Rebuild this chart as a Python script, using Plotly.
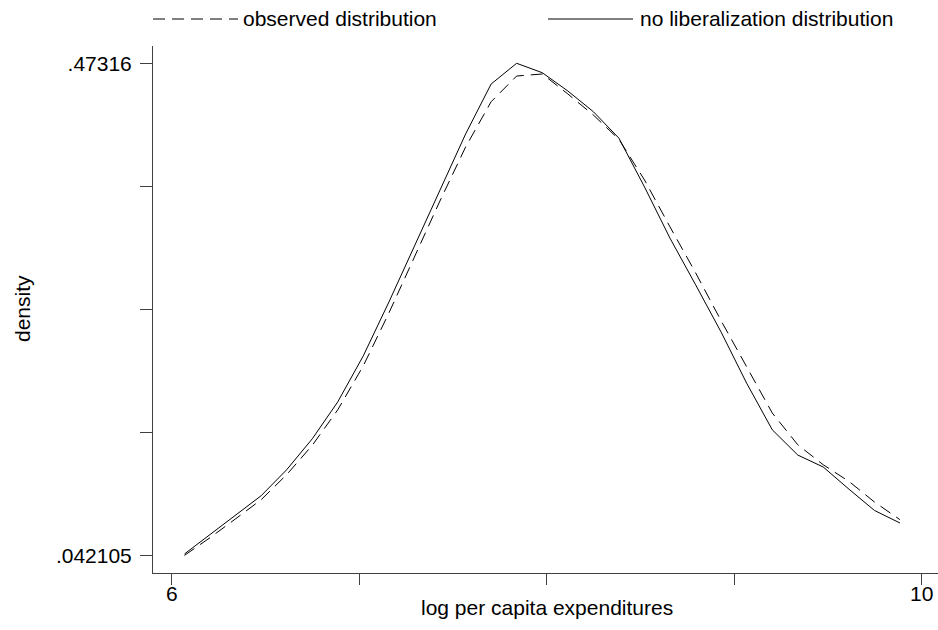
import plotly.graph_objects as go

# x grid (log per capita expenditures)
x_vals = [6.067, 6.203, 6.340, 6.476, 6.612, 6.749, 6.885, 7.021, 7.158, 7.294,
          7.430, 7.567, 7.703, 7.839, 7.976, 8.112, 8.248, 8.385, 8.521, 8.657,
          8.794, 8.930, 9.066, 9.203, 9.339, 9.475, 9.612, 9.748, 9.884]

observed = [0.042105, 0.0576, 0.0742, 0.0909, 0.1128, 0.1386, 0.1697, 0.2082, 0.2546, 0.3036,
            0.3526, 0.3999, 0.4395, 0.4620, 0.4638, 0.4463, 0.4279, 0.4065, 0.3710, 0.3299,
            0.2896, 0.2476, 0.2073, 0.1668, 0.1390, 0.1215, 0.1069, 0.0889, 0.0734]

no_lib = [0.0434, 0.0602, 0.0777, 0.0944, 0.1171, 0.1443, 0.1767, 0.2169, 0.2642, 0.3132,
          0.3622, 0.4113, 0.4550, 0.47316, 0.4649, 0.4489, 0.4308, 0.4075, 0.3649, 0.3200,
          0.2791, 0.2377, 0.1930, 0.1521, 0.1300, 0.1195, 0.1001, 0.0815, 0.0705]

y_ticks = [0.042105, 0.1498688, 0.2576325, 0.3653963, 0.47316]
y_tick_text = [".042105", "", "", "", ".47316"]
x_ticks = [6, 7, 8, 9, 10]
x_tick_text = ["6", "", "", "", "10"]

FONT = "Liberation Sans, Arial, sans-serif"
FS = 21
AX = "#404040"

fig = go.Figure()
fig.add_trace(go.Scatter(x=x_vals, y=observed, mode="lines", name="observed distribution",
                         line=dict(color="black", width=1, dash="12px,7px")))
fig.add_trace(go.Scatter(x=x_vals, y=no_lib, mode="lines", name="no liberalization distribution",
                         line=dict(color="black", width=1)))

fig.update_layout(
    width=938, height=630,
    margin=dict(l=153, r=0, t=46, b=57),
    plot_bgcolor="white", paper_bgcolor="white",
    showlegend=False,
    font=dict(family=FONT, size=FS, color="black"),
    xaxis=dict(range=[5.899, 10.087], tickvals=x_ticks, ticktext=x_tick_text,
               showgrid=False, zeroline=False, showline=True, linecolor=AX, linewidth=1,
               ticks="outside", ticklen=11, tickcolor=AX, tickwidth=1,
               ticklabelstandoff=-9,
               tickfont=dict(family=FONT, size=FS, color="black")),
    yaxis=dict(range=[0.02670, 0.48830], tickvals=y_ticks, ticktext=y_tick_text,
               showgrid=False, zeroline=False, showline=True, linecolor=AX, linewidth=1,
               ticks="outside", ticklen=12, tickcolor=AX, tickwidth=1,
               ticklabelstandoff=4,
               tickfont=dict(family=FONT, size=FS, color="black")),
)

def px(xp):
    return (xp - 153) / 785

def py(yp):
    return (573 - yp) / 527

# legend (drawn manually, Stata style)
fig.add_shape(type="line", xref="paper", yref="paper", x0=px(153), x1=px(238), y0=py(19), y1=py(19),
              line=dict(color="black", width=1, dash="12px,7px"))
fig.add_annotation(xref="paper", yref="paper", x=px(241), y=py(19), text="observed distribution",
                   showarrow=False, xanchor="left", yanchor="middle", font=dict(size=FS))
fig.add_shape(type="line", xref="paper", yref="paper", x0=px(548), x1=px(633), y0=py(19), y1=py(19),
              line=dict(color="black", width=1))
fig.add_annotation(xref="paper", yref="paper", x=px(638), y=py(19), text="no liberalization distribution",
                   showarrow=False, xanchor="left", yanchor="middle", font=dict(size=FS))

# axis titles
fig.add_annotation(xref="paper", yref="paper", x=px(547), y=py(607), text="log per capita expenditures",
                   showarrow=False, xanchor="center", yanchor="middle", font=dict(size=FS))
fig.add_annotation(xref="paper", yref="paper", x=px(22), y=py(309), text="density", textangle=-90,
                   showarrow=False, xanchor="center", yanchor="middle", font=dict(size=FS))

fig.write_html("out.html")
